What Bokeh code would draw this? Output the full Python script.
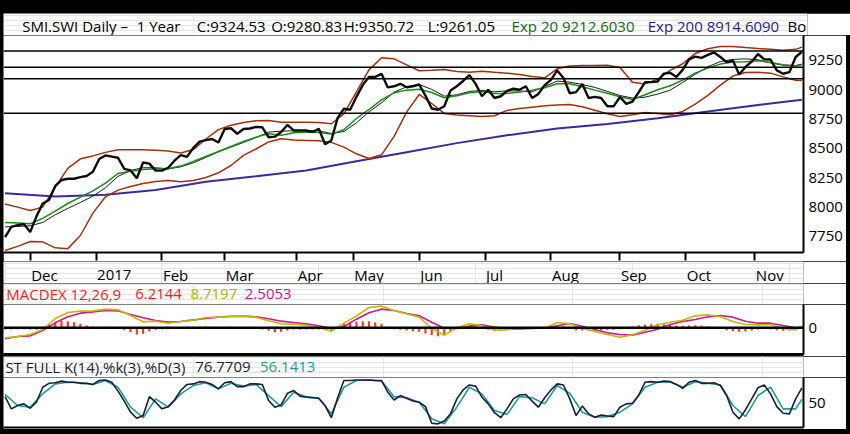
import pandas as pd
from bokeh.plotting import figure
from bokeh.layouts import column
from bokeh.models import Range1d, FixedTicker, Span, Label
from bokeh.embed import file_html
from bokeh.resources import INLINE

# ---------------- data ----------------
HOLIDAYS = ["2016-12-26", "2017-01-02", "2017-04-14", "2017-04-17",
            "2017-05-01", "2017-05-25", "2017-06-05", "2017-08-01"]
MONTH_LABELS = ["Dec", "2017", "Feb", "Mar", "Apr", "May", "Jun",
                "Jul", "Aug", "Sep", "Oct", "Nov"]
PRICE_TICKS = [7750, 8000, 8250, 8500, 8750, 9000, 9250]
HLINES = [9331, 9193, 9094, 8800]

# closes, every 2nd trading day
CLOSE = [7743, 7830, 7845, 7855, 7786, 7920, 8030, 8060, 8180, 8230,
         8241, 8241, 8255, 8265, 8300, 8410, 8440, 8430, 8420, 8326,
         8312, 8245, 8380, 8370, 8310, 8310, 8335, 8395, 8442, 8428,
         8505, 8558, 8570, 8580, 8550, 8665, 8672, 8625, 8665, 8670,
         8683, 8680, 8595, 8600, 8640, 8700, 8653, 8653, 8653, 8640,
         8667, 8535, 8568, 8760, 8838, 8830, 8940, 9040, 9110, 9110,
         9136, 9020, 9030, 9051, 9022, 9030, 9045, 8950, 8840, 8830,
         8860, 8994, 9030, 9075, 9125, 9050, 8945, 9000, 8930, 8945,
         8990, 9009, 9000, 9030, 8930, 8965, 9040, 9085, 9165, 9100,
         8970, 8980, 9050, 8930, 8940, 8930, 8860, 8860, 8938, 8880,
         8900, 8980, 9065, 9065, 9070, 9138, 9145, 9110, 9170, 9260,
         9283, 9272, 9298, 9318, 9280, 9236, 9250, 9130, 9195, 9240,
         9305, 9260, 9258, 9165, 9137, 9150, 9280, 9324.53]

# every 4th trading day (+ last day)
BB_UPPER = [8026, 7999, 7971, 7999, 8170, 8330, 8411, 8436, 8466, 8488,
            8488, 8488, 8485, 8478, 8460, 8490, 8580, 8660, 8697, 8720,
            8735, 8738, 8724, 8724, 8724, 8720, 8710, 8795, 8983, 9170,
            9273, 9264, 9213, 9162, 9167, 9173, 9156, 9150, 9159, 9150,
            9142, 9131, 9114, 9102, 9179, 9202, 9207, 9207, 9210, 9190,
            9065, 9050, 9090, 9165, 9222, 9310, 9350, 9369, 9369, 9360,
            9352, 9345, 9338, 9345, 9364]
BB_LOWER = [7629, 7664, 7706, 7703, 7652, 7645, 7757, 7948, 8087, 8144,
            8175, 8201, 8218, 8227, 8215, 8227, 8252, 8292, 8354, 8440,
            8495, 8555, 8582, 8571, 8568, 8565, 8551, 8511, 8454, 8414,
            8445, 8602, 8809, 8960, 8883, 8798, 8784, 8778, 8772, 8778,
            8824, 8841, 8852, 8863, 8870, 8875, 8855, 8826, 8795, 8772,
            8787, 8806, 8798, 8787, 8815, 8878, 8952, 9040, 9117, 9148,
            9150, 9142, 9110, 9082, 9079]
EMA20 = [7868, 7863, 7857, 7903, 7965, 8030, 8084, 8138, 8204, 8286,
         8306, 8320, 8326, 8326, 8349, 8389, 8431, 8474, 8516, 8559,
         8596, 8625, 8612, 8633, 8639, 8636, 8622, 8659, 8755, 8832,
         8914, 8974, 8997, 9005, 8977, 8932, 8949, 8974, 8986, 8969,
         8969, 8980, 8997, 9017, 9051, 9051, 9025, 8997, 8971, 8940,
         8917, 8957, 9000, 9034, 9082, 9142, 9185, 9219, 9236, 9239,
         9247, 9233, 9213, 9202, 9212.603]
SMA20 = [7831, 7834, 7840, 7868, 7934, 7988, 8039, 8093, 8164, 8261,
         8312, 8335, 8335, 8326, 8343, 8377, 8423, 8471, 8511, 8551,
         8593, 8639, 8647, 8650, 8653, 8650, 8627, 8644, 8718, 8812,
         8889, 8980, 9025, 9045, 9003, 8946, 8957, 8986, 8994, 8983,
         8991, 8989, 8983, 9028, 9074, 9065, 9045, 9020, 8986, 8951,
         8929, 8937, 8963, 8997, 9062, 9133, 9196, 9241, 9259, 9264,
         9256, 9230, 9210, 9207, 9219]
# every 16th trading day (+ last day)
EMA200 = [8118, 8090, 8105, 8145, 8215, 8262, 8312, 8390, 8468, 8545,
          8612, 8670, 8708, 8758, 8815, 8870, 8914.609]

# MACD panel, every 4th trading day (+ last day)
MACD = [-60, -52, -40, -10, 56, 92, 100, 102, 112, 108,
        74, 36, 40, 28, 38, 46, 62, 64, 70, 70,
        64, 42, 24, 22, 16, 4, -20, 28, 70, 122,
        130, 104, 84, 64, -4, -44, 0, 24, 14, -14,
        -12, 0, 0, -2, 32, 24, -2, -22, -40, -56,
        -42, -14, 18, 34, 46, 72, 78, 66, 38, 20,
        18, 20, -4, -12, 8.7197]
SIGNAL = [-66, -52, -48, -16, 30, 66, 88, 96, 104, 102,
          80, 60, 44, 34, 38, 48, 56, 64, 68, 70,
          66, 54, 40, 32, 24, 12, -4, 8, 52, 90,
          112, 104, 86, 72, 34, -2, -4, 10, 18, 4,
          -6, -6, -4, 0, 12, 26, 10, -10, -30, -40,
          -44, -26, -8, 20, 38, 50, 66, 74, 64, 40,
          28, 28, 14, 0, 2.5053]
# histogram, every 2nd trading day
HIST = [-10, -10, -8, -8, -10, -12, 6, 24, 36, 42,
        40, 34, 24, 14, 8, 6, 6, 4, -4, -14,
        -26, -40, -36, -22, -12, -10, -8, -4, 4, 6,
        6, 6, 8, 6, 2, 4, 6, 2, 2, 0,
        -4, -10, -18, -26, -24, -16, -10, -10, -10, -10,
        -10, -14, -18, 6, 24, 32, 36, 40, 40, 34,
        24, 6, -8, -12, -16, -20, -24, -34, -44, -50,
        -44, -20, 2, 10, 14, 8, -4, -12, -16, -16,
        -12, -6, 2, 4, 2, -2, 4, 12, 16, 10,
        -4, -14, -16, -18, -18, -16, -14, -12, -8, 4,
        10, 16, 20, 22, 24, 22, 18, 14, 12, 14,
        16, 14, 10, 2, -6, -14, -20, -24, -22, -16,
        -10, -6, -8, -14, -18, -16, -6, 6.2144]

# stochastics
STOCH_K = [61, 39, 45, 48, 40, 51, 78, 85, 86, 89,
           87, 87, 85, 85, 83, 90, 91, 87, 71, 53,
           33, 22, 27, 61, 51, 39, 43, 55, 72, 83,
           84, 88, 87, 83, 75, 86, 88, 79, 79, 84,
           84, 83, 54, 42, 46, 67, 72, 62, 60, 59,
           58, 45, 23, 59, 90, 90, 91, 91, 91, 90,
           90, 69, 55, 63, 58, 53, 51, 43, 13, 12,
           17, 30, 57, 73, 82, 80, 60, 48, 32, 23,
           39, 57, 64, 65, 53, 42, 59, 73, 84, 82,
           57, 27, 44, 30, 24, 28, 26, 25, 42, 48,
           49, 64, 87, 88, 87, 89, 88, 83, 76, 87,
           90, 85, 85, 86, 81, 63, 33, 21, 37, 57,
           77, 82, 66, 43, 31, 30, 57, 76.7709]
STOCH_D = [65, 45, 42, 66, 84, 87, 86, 83, 90, 78,
           42, 23, 57, 42, 66, 81, 86, 75, 85, 80,
           83, 63, 43, 69, 61, 58, 30, 78, 90, 91,
           89, 61, 59, 51, 21, 12, 42, 78, 66, 36,
           29, 61, 59, 48, 81, 67, 33, 24, 25, 33,
           48, 78, 87, 88, 78, 88, 85, 82, 45, 25,
           63, 78, 39, 39, 56.1413]

HEADER_TEXT = ["SMI.SWI Daily \u2013", "1 Year", "C:9324.53", "O:9280.83",
               "H:9350.72", "L:9261.05", "Exp 20 9212.6030",
               "Exp 200 8914.6090", "Bo"]
MACD_TEXT = ["MACDEX 12,26,9", "6.2144", "8.7197", "2.5053"]
STOCH_TEXT = ["ST FULL K(14),%k(3),%D(3)", "76.7709", "56.1413"]

# ---------------- calendar / grids ----------------
days = pd.bdate_range("2016-11-21", "2017-11-22")
days = days[~days.isin(pd.to_datetime(HOLIDAYS))]
N = len(days)
per = days.to_period("M")
TICK_IDX = [i for i in range(1, N) if per[i] != per[i - 1]]
IDX2 = list(range(0, N, 2))
IDX4 = list(range(0, N - 2, 4)) + [N - 1]
IDX16 = list(range(0, N - 14, 16)) + [N - 1]

# ---------------- styles ----------------
FONT = "Open Sans"
FS = "15px"
C_BB = "#a3300c"
C_EMA20 = "#168c16"
C_EMA200 = "#3a2a9e"
C_MACD = "#bcbc00"
C_SIG = "#d4168e"
C_HIST = "#ff3c1e"
C_K = "#1b1b3d"
C_D = "#1f9e90"

W = 843          # figure width (3px black left, 4px black right)
RB = 43          # right border holding the value axis
xr = Range1d(-0.5, N - 0.5)


def base_fig(height, yr, bottom, margin):
    p = figure(width=W, height=height, x_range=xr, y_range=yr,
               output_backend="svg", toolbar_location=None,
               y_axis_location="right", x_axis_location="below",
               min_border_left=0, min_border_right=RB,
               min_border_top=0, min_border_bottom=bottom,
               margin=margin, background_fill_color="white",
               border_fill_color="white", outline_line_color=None)
    p.grid.visible = False
    ya = p.yaxis[0]
    ya.major_tick_out = 0
    ya.major_tick_in = 0
    ya.minor_tick_out = 0
    ya.minor_tick_in = 0
    ya.axis_line_width = 2
    ya.axis_line_color = "black"
    ya.major_label_text_font = FONT
    ya.major_label_text_font_size = FS
    ya.major_label_text_color = "black"
    ya.major_label_standoff = 5
    xa = p.xaxis[0]
    xa.axis_line_width = 2
    xa.axis_line_color = "black"
    xa.minor_tick_out = 0
    xa.minor_tick_in = 0
    xa.major_tick_in = 0
    xa.major_label_standoff = 0
    return p


def text_strip(height, width, x_range, right, margin):
    s = figure(width=width, height=height, x_range=x_range,
               y_range=Range1d(0, height), output_backend="svg",
               toolbar_location=None, x_axis_location=None,
               y_axis_location=None, min_border_left=0,
               min_border_right=right, min_border_top=0, min_border_bottom=0,
               margin=margin, background_fill_color="white",
               border_fill_color="white", outline_line_color=None)
    return s


def add_texts(p, texts, xs, colors, y):
    for t, x, c in zip(texts, xs, colors):
        p.add_layout(Label(x=x, y=y, text=t, text_font=FONT,
                           text_font_size=FS, text_color=c,
                           text_baseline="middle", text_align="left"))


# ---------------- header strip ----------------
pH = text_strip(22, W + 4, Range1d(0, W + 4), 0, (13, 0, 0, 3))
add_texts(pH, HEADER_TEXT,
          [19.7, 140.3, 203.7, 282.0, 358.5, 447.0, 535.3, 678.7, 826.0],
          ["black"] * 6 + ["#0b6a0b", "#2a1a8a", "black"], 10)

# ---------------- price panel ----------------
Y0, Y1 = 7612, 9463
pA = base_fig(226, Range1d(Y0, Y1), 9, (0, 4, 0, 3))
pA.yaxis[0].ticker = FixedTicker(ticks=PRICE_TICKS)
xa = pA.xaxis[0]
xa.ticker = FixedTicker(ticks=TICK_IDX)
xa.major_tick_out = 8
xa.major_tick_line_width = 2
xa.major_label_text_font_size = "1px"
xa.major_label_text_color = None

for h in HLINES:
    pA.add_layout(Span(location=h, dimension="width", line_color="black",
                       line_width=1.5))

pA.line(IDX16, EMA200, line_color=C_EMA200, line_width=2)
pA.line(IDX4, BB_UPPER, line_color=C_BB, line_width=1.5)
pA.line(IDX4, BB_LOWER, line_color=C_BB, line_width=1.5)
pA.line(IDX4, SMA20, line_color="#1a1a1a", line_width=1)
pA.line(IDX4, EMA20, line_color=C_EMA20, line_width=1.5)
pA.line(IDX2, CLOSE, line_color="#0d0d0d", line_width=2.4)

# ---------------- month label strip ----------------
pX = text_strip(22, W, xr, RB, (0, 4, 0, 3))
for t, lab in zip(TICK_IDX, MONTH_LABELS):
    pX.add_layout(Label(x=t, y=9, x_offset=1, text=lab, text_font=FONT,
                        text_font_size=FS, text_color="black",
                        text_baseline="middle", text_align="left"))

# ---------------- MACD title + panel ----------------
pMT = text_strip(21, W, Range1d(0, W), RB, (0, 4, 0, 3))
add_texts(pMT, MACD_TEXT, [3.0, 138.7, 197.0, 254.3],
          ["#ff1a1a", "#ff1a1a", "#b0b000", "#c8148c"], 10.5)

M0, M1 = -160, 140
pB = base_fig(52, Range1d(M0, M1), 2, (0, 4, 0, 3))
pB.yaxis[0].ticker = FixedTicker(ticks=[0])
xb = pB.xaxis[0]
xb.ticker = FixedTicker(ticks=[])
xb.major_tick_out = 0
xb.axis_line_width = 3

pB.vbar(x=IDX2, top=HIST, bottom=0, width=0.7, fill_color=C_HIST,
        line_color=None)
pB.add_layout(Span(location=0, dimension="width", line_color="black",
                   line_width=2.5))
pB.line(IDX4, SIGNAL, line_color=C_SIG, line_width=1.6)
pB.line(IDX4, MACD, line_color=C_MACD, line_width=1.6)

# ---------------- stochastic title + panel ----------------
pST = text_strip(21, W, Range1d(0, W), RB, (0, 4, 0, 3))
add_texts(pST, STOCH_TEXT, [2.0, 202.0, 270.3], [C_K, C_K, "#1a9a8c"], 10.5)

S0, S1 = 5.4, 95.5
pC = base_fig(52, Range1d(S0, S1), 2, (0, 4, 5, 3))
pC.yaxis[0].ticker = FixedTicker(ticks=[50])
xc = pC.xaxis[0]
xc.ticker = FixedTicker(ticks=[])
xc.major_tick_out = 0
xc.axis_line_width = 2

pC.line(IDX4, STOCH_D, line_color=C_D, line_width=1.6)
pC.line(IDX2, STOCH_K, line_color=C_K, line_width=1.6)

p = column(pH, pA, pX, pMT, pB, pST, pC, spacing=0,
           styles={"background-color": "black"})

open("out.html", "w").write(file_html(p, INLINE))
